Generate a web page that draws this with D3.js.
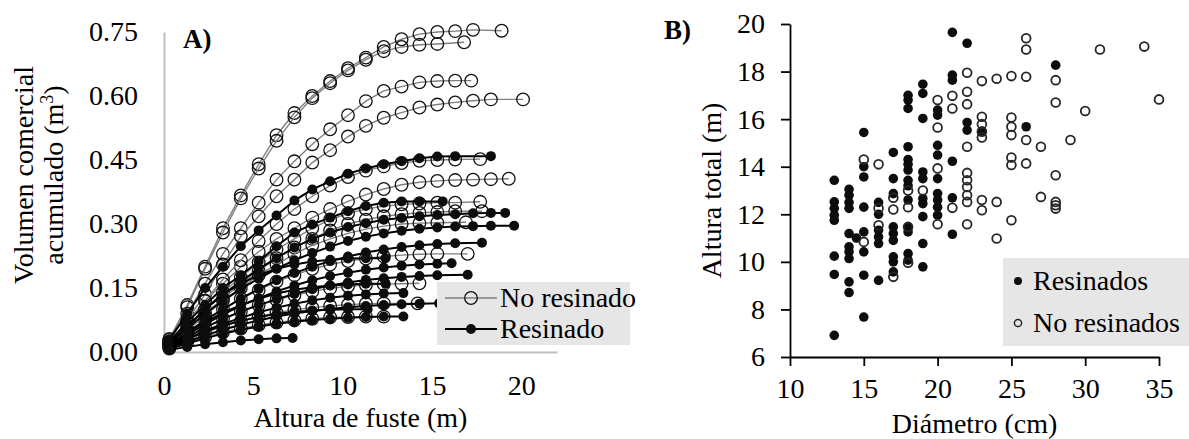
<!DOCTYPE html>
<html>
<head>
<meta charset="utf-8">
<script src="https://cdn.jsdelivr.net/npm/d3@7"></script>
<style>
  body { margin: 0; background: #fff; }
  svg text { font-family: "Liberation Serif", "Times New Roman", serif; fill: #000; }
</style>
</head>
<body>
<svg id="chart" width="1189" height="439"></svg>
<script>
// A) volumen comercial acumulado por sección del fuste
// alturas de corte (m); el último volumen de cada árbol va en su punta
const secciones = [0.3, 1.3, 2.3, 3.3, 4.3, 5.3, 6.3, 7.3, 8.3, 9.3, 10.3, 11.3, 12.3, 13.3, 14.3, 15.3, 16.3, 17.3, 18.3, 19.3]

const volNoResinado = [
  [0.03, 0.11, 0.20, 0.29, 0.367, 0.44, 0.508, 0.56, 0.60, 0.635, 0.665, 0.69, 0.715, 0.733, 0.745, 0.75, 0.752, 0.755, 0.753],
  [0.03, 0.105, 0.195, 0.28, 0.36, 0.43, 0.495, 0.55, 0.595, 0.63, 0.66, 0.685, 0.705, 0.715, 0.72, 0.722, 0.726],
  [0.025, 0.09, 0.16, 0.23, 0.29, 0.35, 0.404, 0.447, 0.487, 0.522, 0.555, 0.588, 0.612, 0.622, 0.632, 0.635, 0.636, 0.636],
  [0.02, 0.075, 0.135, 0.205, 0.271, 0.318, 0.365, 0.404, 0.444, 0.473, 0.505, 0.53, 0.549, 0.561, 0.573, 0.58, 0.585, 0.589, 0.592, 0.592],
  [0.02, 0.07, 0.12, 0.16, 0.2, 0.235, 0.265, 0.29, 0.315, 0.335, 0.353, 0.369, 0.382, 0.392, 0.398, 0.401, 0.403, 0.404, 0.405, 0.406],
  [0.02, 0.07, 0.12, 0.17, 0.215, 0.26, 0.3, 0.335, 0.365, 0.39, 0.41, 0.425, 0.435, 0.443, 0.448, 0.45, 0.451, 0.452],
  [0.02, 0.06, 0.1, 0.14, 0.175, 0.21, 0.24, 0.265, 0.29, 0.31, 0.325, 0.335, 0.342, 0.346, 0.348, 0.35, 0.35, 0.352],
  [0.02, 0.055, 0.09, 0.125, 0.16, 0.19, 0.22, 0.245, 0.265, 0.285, 0.3, 0.31, 0.318, 0.323, 0.326, 0.328, 0.33, 0.33],
  [0.015, 0.05, 0.085, 0.12, 0.15, 0.18, 0.205, 0.23, 0.25, 0.265, 0.278, 0.288, 0.295, 0.3, 0.302, 0.303, 0.304],
  [0.015, 0.045, 0.075, 0.1, 0.125, 0.145, 0.165, 0.18, 0.195, 0.205, 0.213, 0.219, 0.224, 0.227, 0.229, 0.23, 0.23],
  [0.012, 0.035, 0.058, 0.078, 0.095, 0.11, 0.122, 0.133, 0.142, 0.149, 0.154, 0.157, 0.159, 0.16, 0.161],
  [0.01, 0.028, 0.045, 0.06, 0.072, 0.083, 0.092, 0.099, 0.104, 0.108, 0.111, 0.113, 0.114, 0.114],
  [0.008, 0.022, 0.035, 0.046, 0.055, 0.063, 0.069, 0.074, 0.078, 0.081, 0.082, 0.083, 0.083]
]
const puntaNoResinado = [18.9, 16.8, 17.2, 20.1, 19.3, 17.7, 17.7, 17.8, 16.9, 17.0, 14.3, 14.2, 12.3]

const volResinado = [
  [0.03, 0.09, 0.15, 0.2, 0.248, 0.285, 0.32, 0.355, 0.381, 0.4, 0.418, 0.43, 0.44, 0.447, 0.454, 0.458, 0.459, 0.459],
  [0.025, 0.07, 0.11, 0.15, 0.18, 0.212, 0.248, 0.28, 0.299, 0.315, 0.33, 0.342, 0.35, 0.353, 0.353, 0.353],
  [0.02, 0.06, 0.1, 0.135, 0.165, 0.195, 0.22, 0.245, 0.265, 0.28, 0.293, 0.302, 0.31, 0.314, 0.318, 0.321, 0.323, 0.325, 0.326, 0.326],
  [0.018, 0.055, 0.09, 0.12, 0.148, 0.172, 0.195, 0.215, 0.232, 0.247, 0.26, 0.27, 0.278, 0.284, 0.289, 0.292, 0.294, 0.295, 0.296, 0.296],
  [0.015, 0.045, 0.075, 0.1, 0.125, 0.148, 0.168, 0.185, 0.2, 0.213, 0.224, 0.233, 0.24, 0.246, 0.25, 0.253, 0.255, 0.256],
  [0.02, 0.06, 0.1, 0.135, 0.16, 0.18, 0.195, 0.205, 0.212, 0.216, 0.219, 0.22, 0.22],
  [0.013, 0.04, 0.065, 0.088, 0.108, 0.126, 0.142, 0.156, 0.168, 0.178, 0.186, 0.193, 0.198, 0.202, 0.205, 0.207, 0.208],
  [0.012, 0.035, 0.057, 0.077, 0.095, 0.11, 0.124, 0.136, 0.147, 0.156, 0.163, 0.169, 0.173, 0.176, 0.178, 0.18, 0.181],
  [0.015, 0.045, 0.07, 0.092, 0.11, 0.125, 0.137, 0.146, 0.152, 0.156, 0.158, 0.16, 0.16],
  [0.01, 0.03, 0.05, 0.066, 0.08, 0.093, 0.104, 0.113, 0.121, 0.127, 0.132, 0.135, 0.137, 0.138],
  [0.008, 0.024, 0.039, 0.052, 0.064, 0.074, 0.083, 0.09, 0.096, 0.101, 0.105, 0.108, 0.11, 0.112, 0.113, 0.114],
  [0.01, 0.03, 0.048, 0.062, 0.073, 0.082, 0.089, 0.094, 0.097, 0.099, 0.1, 0.1],
  [0.007, 0.02, 0.032, 0.043, 0.052, 0.06, 0.066, 0.071, 0.075, 0.078, 0.08, 0.082, 0.083, 0.083],
  [0.005, 0.012, 0.018, 0.023, 0.027, 0.03, 0.032, 0.033]
]
const puntaResinado = [18.3, 15.6, 19.1, 19.6, 17.8, 12.4, 16.1, 17.0, 12.4, 13.4, 15.4, 11.4, 13.4, 7.2]

const ticksXA = [0, 5, 10, 15, 20]
const ticksYA = [0, 0.15, 0.3, 0.45, 0.6, 0.75]

// B) diámetro (cm) y altura total (m) de cada árbol
const resinados = [
  [13, 13.43], [13, 12.52], [13, 12.25], [13, 11.96], [13, 11.75], [13, 10.24], [13, 9.47], [13, 6.91],
  [14, 13.05], [14, 12.8], [14, 12.5], [14, 12.25], [14, 11.19], [14, 10.63], [14, 10.42], [14, 10.14], [14, 9.16], [14, 8.71],
  [14.5, 11.0],
  [15, 15.44], [15, 14.0], [15, 13.57], [15, 12.3], [15, 11.26], [15, 10.42], [15, 9.44], [15, 7.68],
  [16, 12.5], [16, 12.0], [16, 11.33], [16, 11.05], [16, 10.77], [16, 9.22],
  [17, 14.6], [17, 13.5], [17, 12.87], [17, 11.47], [17, 11.19], [17, 10.9], [17, 10.21], [17, 10.0], [17, 9.58],
  [18, 17.0], [18, 16.8], [18, 16.45], [18, 14.84], [18, 14.3], [18, 14.1], [18, 13.86], [18, 13.43], [18, 13.2], [18, 12.6],
  [18, 11.47], [18, 11.26], [18, 10.35], [18, 10.07],
  [19, 17.47], [19, 17.08], [19, 16.03], [19, 13.78], [19, 13.5], [19, 12.66], [19, 12.45], [19, 11.9], [19, 10.77], [19, 9.79],
  [20, 16.38], [20, 16.17], [20, 14.9], [20, 14.49], [20, 13.5], [20, 12.87], [20, 12.6], [20, 12.3], [20, 11.96],
  [21, 19.65], [21, 17.85], [21, 17.64], [21, 14.23], [21, 12.69], [21, 11.16],
  [22, 19.19], [22, 15.86], [22, 15.54],
  [23, 15.5], [26, 15.68], [28, 18.27]
]
const noResinados = [
  [15, 14.3], [15, 10.84],
  [16, 14.1], [16, 12.25], [16, 11.54],
  [17, 12.7], [17, 12.2], [17, 9.37],
  [18, 13.0], [18, 12.3], [18, 11.47], [18, 9.96],
  [19, 13.0],
  [20, 16.8], [20, 15.65], [20, 13.93], [20, 11.58],
  [21, 16.98], [21, 16.45], [21, 12.27],
  [22, 17.95], [22, 17.15], [22, 16.63], [22, 14.84], [22, 13.74], [22, 13.43], [22, 13.15], [22, 12.8], [22, 12.52], [22, 11.58],
  [23, 17.6], [23, 16.1], [23, 15.79], [23, 15.47], [23, 15.23], [23, 12.6], [23, 12.17],
  [24, 17.7], [24, 12.52], [24, 10.98],
  [25, 17.81], [25, 16.07], [25, 15.68], [25, 15.33], [25, 14.39], [25, 14.07], [25, 11.75],
  [26, 19.4], [26, 18.93], [26, 17.78], [26, 15.12], [26, 14.14],
  [27, 14.84], [27, 12.73],
  [28, 17.64], [28, 16.7], [28, 13.64], [28, 12.52], [28, 12.38], [28, 12.24],
  [29, 15.12], [30, 16.34], [31, 18.93], [34, 19.05], [35, 16.83]
]
const ticksXB = [10, 15, 20, 25, 30, 35]
const ticksYB = [6, 8, 10, 12, 14, 16, 18, 20]

const svg = d3.select('#chart')
const fontSize = 28

// ---------- panel A ----------
const xA = d3.scaleLinear().domain([0, 22]).range([164, 557])
const yA = d3.scaleLinear().domain([0, 0.75]).range([352, 32])

const axisYA = svg.append('g')
  .attr('transform', 'translate(164,0)')
  .call(d3.axisLeft(yA).tickValues(ticksYA).tickSize(0).tickSizeOuter(0).tickPadding(26).tickFormat(d3.format('.2f')))
const axisXA = svg.append('g')
  .attr('transform', 'translate(0,352)')
  .call(d3.axisBottom(xA).tickValues(ticksXA).tickSize(0).tickSizeOuter(0).tickPadding(23).tickFormat(d3.format('d')))
;[axisYA, axisXA].forEach(g => {
  g.select('.domain').attr('stroke', '#bfbfbf').attr('stroke-width', 2)
  g.selectAll('text').attr('font-size', fontSize).attr('font-family', null)
})

const lineA = d3.line().x(d => xA(d[0])).y(d => yA(d[1]))
const puntos = (vol, punta) => vol.map((v, i) => [i === vol.length - 1 ? punta : secciones[i], v])

const arbolesNo = volNoResinado.map((v, i) => puntos(v, puntaNoResinado[i]))
const arbolesRes = volResinado.map((v, i) => puntos(v, puntaResinado[i]))

arbolesNo.forEach(arbol => {
  svg.append('path').datum(arbol)
    .attr('d', lineA).attr('fill', 'none')
    .attr('stroke', '#7f7f7f').attr('stroke-width', 1.4)
  svg.append('g').selectAll('circle').data(arbol).join('circle')
    .attr('cx', d => xA(d[0])).attr('cy', d => yA(d[1])).attr('r', 6.3)
    .attr('fill', 'none').attr('stroke', '#111').attr('stroke-width', 1.3)
})
arbolesRes.forEach(arbol => {
  svg.append('path').datum(arbol)
    .attr('d', lineA).attr('fill', 'none')
    .attr('stroke', '#000').attr('stroke-width', 2)
  svg.append('g').selectAll('circle').data(arbol).join('circle')
    .attr('cx', d => xA(d[0])).attr('cy', d => yA(d[1])).attr('r', 5)
    .attr('fill', '#0d0d0d')
})

// leyenda A
const legA = svg.append('g')
legA.append('rect').attr('x', 437).attr('y', 282).attr('width', 193).attr('height', 63).attr('fill', '#e6e6e6')
legA.append('line').attr('x1', 445).attr('x2', 497).attr('y1', 298).attr('y2', 298).attr('stroke', '#7f7f7f').attr('stroke-width', 1.4)
legA.append('circle').attr('cx', 471).attr('cy', 298).attr('r', 6.3).attr('fill', 'none').attr('stroke', '#111').attr('stroke-width', 1.3)
legA.append('text').attr('x', 500).attr('y', 307).attr('font-size', fontSize).text('No resinado')
legA.append('line').attr('x1', 445).attr('x2', 497).attr('y1', 329).attr('y2', 329).attr('stroke', '#000').attr('stroke-width', 2)
legA.append('circle').attr('cx', 471).attr('cy', 329).attr('r', 5).attr('fill', '#0d0d0d')
legA.append('text').attr('x', 500).attr('y', 338).attr('font-size', fontSize).text('Resinado')

svg.append('text').attr('x', 183).attr('y', 48).attr('font-size', 27).attr('font-weight', 'bold').text('A)')

svg.append('text').attr('x', xA(11)).attr('y', 427).attr('text-anchor', 'middle')
  .attr('font-size', fontSize).text('Altura de fuste (m)')

svg.append('text').attr('transform', 'translate(33,175) rotate(-90)').attr('text-anchor', 'middle')
  .attr('font-size', fontSize).text('Volumen comercial')
const t2 = svg.append('text').attr('transform', 'translate(63,175) rotate(-90)').attr('text-anchor', 'middle')
  .attr('font-size', fontSize)
t2.append('tspan').text('acumulado (m')
t2.append('tspan').attr('dy', -10).attr('font-size', 18).text('3')
t2.append('tspan').attr('dy', 10).text(')')

// ---------- panel B ----------
const xB = d3.scaleLinear().domain([10, 35]).range([790, 1159])
const yB = d3.scaleLinear().domain([6, 20]).range([357, 24])

const axisYB = svg.append('g')
  .attr('transform', 'translate(790,0)')
  .call(d3.axisLeft(yB).tickValues(ticksYB).tickSize(9).tickSizeOuter(0).tickPadding(16))
const axisXB = svg.append('g')
  .attr('transform', 'translate(0,357)')
  .call(d3.axisBottom(xB).tickValues(ticksXB).tickSize(9).tickSizeOuter(0).tickPadding(12))
;[axisYB, axisXB].forEach(g => {
  g.selectAll('.domain, line').attr('stroke', '#000').attr('stroke-width', 1.8)
  g.selectAll('text').attr('font-size', fontSize).attr('font-family', null)
})

svg.append('g').selectAll('circle').data(resinados).join('circle')
  .attr('cx', d => xB(d[0])).attr('cy', d => yB(d[1])).attr('r', 4.8)
  .attr('fill', '#0d0d0d')
svg.append('g').selectAll('circle').data(noResinados).join('circle')
  .attr('cx', d => xB(d[0])).attr('cy', d => yB(d[1])).attr('r', 4.4)
  .attr('fill', 'none').attr('stroke', '#262626').attr('stroke-width', 1.8)

// leyenda B
const legB = svg.append('g')
legB.append('rect').attr('x', 1003).attr('y', 258).attr('width', 186).attr('height', 88).attr('fill', '#e6e6e6')
legB.append('circle').attr('cx', 1018).attr('cy', 281).attr('r', 4).attr('fill', '#0d0d0d')
legB.append('text').attr('x', 1033).attr('y', 290).attr('font-size', fontSize).text('Resinados')
legB.append('circle').attr('cx', 1018).attr('cy', 323).attr('r', 3.6).attr('fill', 'none').attr('stroke', '#262626').attr('stroke-width', 1.5)
legB.append('text').attr('x', 1033).attr('y', 332).attr('font-size', fontSize).text('No resinados')

svg.append('text').attr('x', 664).attr('y', 39).attr('font-size', 27).attr('font-weight', 'bold').text('B)')

svg.append('text').attr('x', xB(22.5)).attr('y', 433).attr('text-anchor', 'middle')
  .attr('font-size', fontSize).text('Diámetro (cm)')
svg.append('text').attr('transform', `translate(721,${yB(13)}) rotate(-90)`).attr('text-anchor', 'middle')
  .attr('font-size', fontSize).text('Altura total (m)')
</script>
</body>
</html>
